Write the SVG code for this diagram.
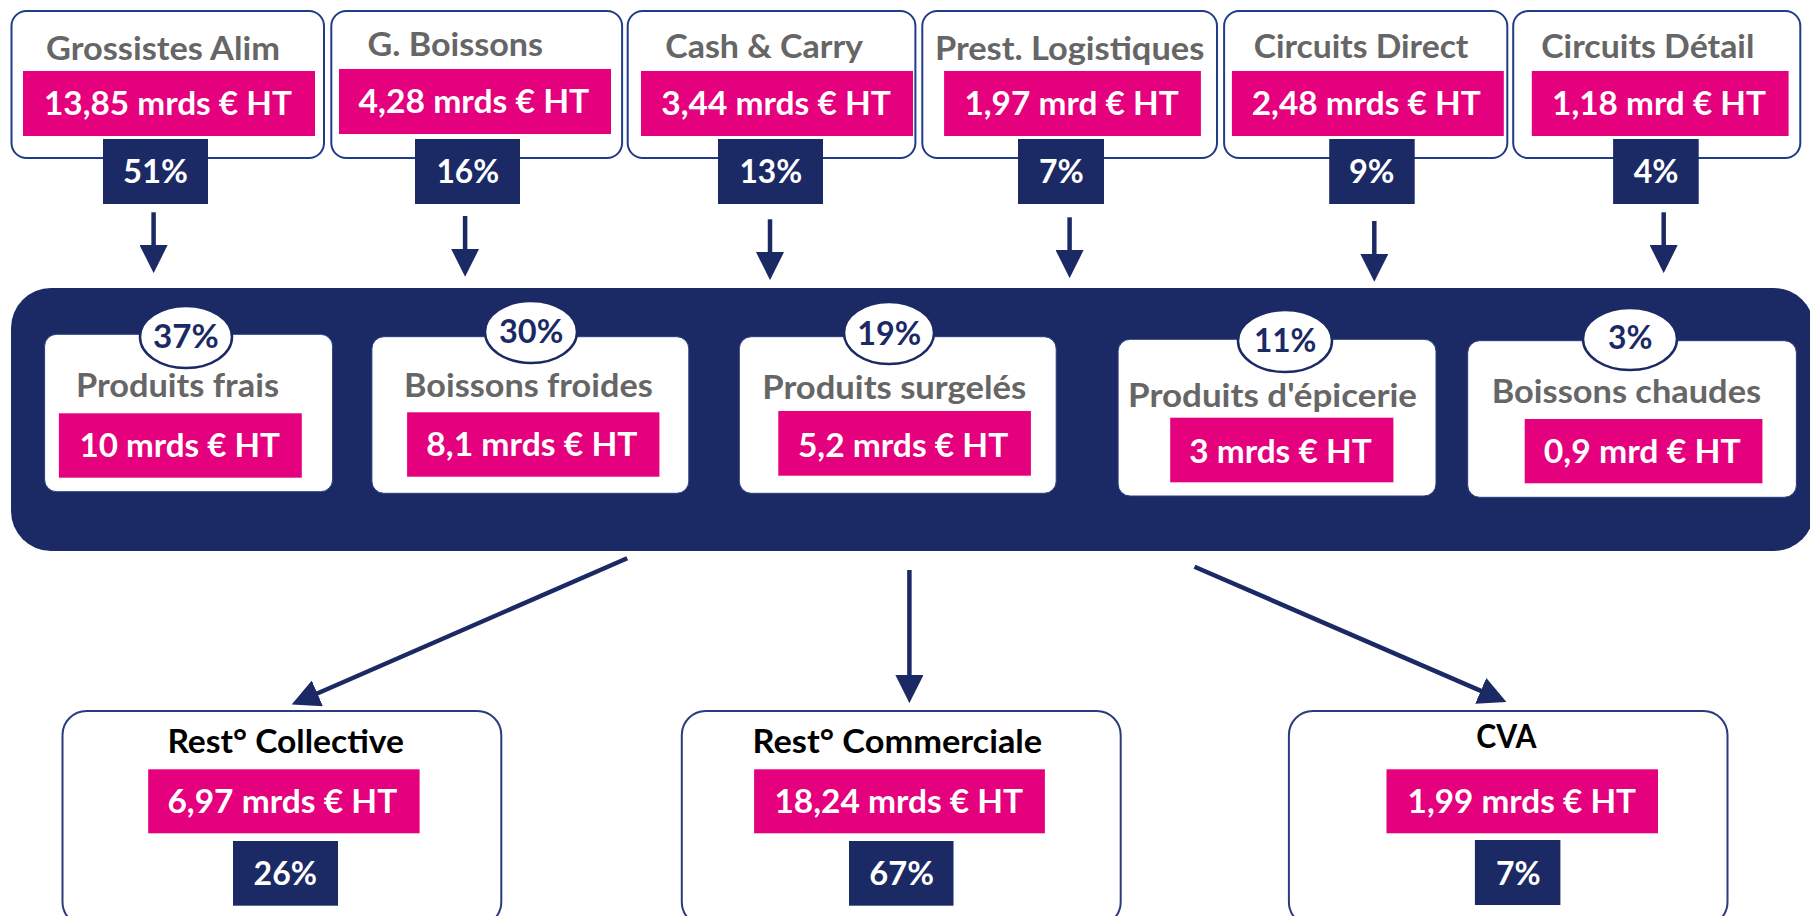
<svg xmlns="http://www.w3.org/2000/svg" width="1810" height="916" viewBox="0 0 1810 916">
<defs>
<style>
text{font-family:Lato,"Open Sans","Liberation Sans",sans-serif;font-weight:700;}
.src{fill:#fff;stroke:#203C87;stroke-width:2;}
.pk{fill:#E5007D;}
.nv{fill:#1B2A65;}
.wb{fill:#fff;stroke:#2A3C7E;stroke-width:1;}
.el{fill:#fff;stroke:#1B2A65;stroke-width:2.5;}
.bb{fill:#fff;stroke:#2A3C7E;stroke-width:2;}
.t{fill:#666666;font-size:33px;}
.tb{fill:#000;font-size:32px;}
.m{fill:#fff;font-size:32.5px;}
.p{fill:#fff;font-size:33px;}
.pe{fill:#1B2A65;font-size:33px;}
.ar{stroke:#1B2A65;stroke-width:4.5;fill:none;marker-end:url(#ah);}
</style>
<marker id="ah" markerUnits="userSpaceOnUse" markerWidth="28" markerHeight="28" viewBox="0 0 27 27" refX="5" refY="13.5" orient="auto">
<path d="M0,0 L27,13.5 L0,27 z" fill="#1B2A65"/>
</marker>
</defs>
<rect width="1810" height="916" fill="#fff"/>

<g id="grossistes-alim">
<rect class="src" x="11.5" y="11" width="312.5" height="147" rx="15"/>
<rect class="pk" x="23" y="71" width="292" height="65"/>
<rect class="nv" x="103" y="139" width="105" height="65"/>
<text class="t" x="46" y="60" textLength="234" lengthAdjust="spacingAndGlyphs">Grossistes Alim</text>
<text class="m" x="44" y="115" textLength="248" lengthAdjust="spacingAndGlyphs">13,85 mrds € HT</text>
<text class="p" x="123" y="182.7" textLength="65" lengthAdjust="spacingAndGlyphs">51%</text>
</g>

<g id="g-boissons">
<rect class="src" x="331.3" y="11" width="290.8" height="147" rx="15"/>
<rect class="pk" x="339" y="69" width="272" height="65"/>
<rect class="nv" x="415" y="139" width="105" height="65"/>
<text class="t" x="367.5" y="55.7" textLength="175.5" lengthAdjust="spacingAndGlyphs">G. Boissons</text>
<text class="m" x="358.6" y="113.3" textLength="230.7" lengthAdjust="spacingAndGlyphs">4,28 mrds € HT</text>
<text class="p" x="436.5" y="182.7" textLength="62.7" lengthAdjust="spacingAndGlyphs">16%</text>
</g>

<g id="cash-carry">
<rect class="src" x="627.7" y="11" width="287.7" height="147" rx="15"/>
<rect class="pk" x="641" y="71" width="272" height="65"/>
<rect class="nv" x="718" y="139" width="105" height="65"/>
<text class="t" x="665.2" y="58.3" textLength="197.8" lengthAdjust="spacingAndGlyphs">Cash &amp; Carry</text>
<text class="m" x="661.3" y="115" textLength="229.6" lengthAdjust="spacingAndGlyphs">3,44 mrds € HT</text>
<text class="p" x="739.4" y="182.7" textLength="62.7" lengthAdjust="spacingAndGlyphs">13%</text>
</g>

<g id="prest-logistiques">
<rect class="src" x="922.3" y="11" width="294.7" height="147" rx="15"/>
<rect class="pk" x="944.1" y="71" width="256.8" height="65"/>
<rect class="nv" x="1018" y="139" width="86" height="65"/>
<text class="t" x="934.9" y="60" textLength="269.4" lengthAdjust="spacingAndGlyphs">Prest. Logistiques</text>
<text class="m" x="964.4" y="115" textLength="214.3" lengthAdjust="spacingAndGlyphs">1,97 mrd € HT</text>
<text class="p" x="1039" y="182.7" textLength="44.8" lengthAdjust="spacingAndGlyphs">7%</text>
</g>

<g id="circuits-direct">
<rect class="src" x="1224.1" y="11" width="283.2" height="147" rx="15"/>
<rect class="pk" x="1231.9" y="71" width="271.9" height="65"/>
<rect class="nv" x="1329.2" y="139" width="85.5" height="65"/>
<text class="t" x="1253.7" y="58.3" textLength="214.7" lengthAdjust="spacingAndGlyphs">Circuits Direct</text>
<text class="m" x="1251.7" y="115" textLength="229.2" lengthAdjust="spacingAndGlyphs">2,48 mrds € HT</text>
<text class="p" x="1349" y="182.7" textLength="45.5" lengthAdjust="spacingAndGlyphs">9%</text>
</g>

<g id="circuits-detail">
<rect class="src" x="1513.2" y="11" width="287.1" height="147" rx="15"/>
<rect class="pk" x="1531.8" y="71" width="256.8" height="65"/>
<rect class="nv" x="1613.1" y="139" width="85.6" height="65"/>
<text class="t" x="1541.2" y="58.3" textLength="213.2" lengthAdjust="spacingAndGlyphs">Circuits Détail</text>
<text class="m" x="1552.1" y="115" textLength="213.9" lengthAdjust="spacingAndGlyphs">1,18 mrd € HT</text>
<text class="p" x="1633.8" y="182.7" textLength="44.7" lengthAdjust="spacingAndGlyphs">4%</text>
</g>

<g id="produits">
<rect class="nv" x="11" y="288" width="1803" height="263" rx="40"/>
</g>

<g id="produits-frais">
<rect class="wb" x="44.6" y="334.3" width="288" height="157.4" rx="12"/>
<ellipse class="el" cx="186" cy="337" rx="46" ry="31"/>
<text class="pe" x="153" y="348.3" textLength="65.8" lengthAdjust="spacingAndGlyphs">37%</text>
<text class="t" x="75.9" y="396.7" textLength="203.1" lengthAdjust="spacingAndGlyphs">Produits frais</text>
<rect class="pk" x="58.9" y="413.3" width="242.9" height="64.4"/>
<text class="m" x="79.5" y="456.7" textLength="200.4" lengthAdjust="spacingAndGlyphs">10 mrds € HT</text>
</g>

<g id="boissons-froides">
<rect class="wb" x="371.9" y="336.7" width="316.9" height="156.6" rx="12"/>
<ellipse class="el" cx="531" cy="332" rx="46" ry="31"/>
<text class="pe" x="499" y="342.7" textLength="64.4" lengthAdjust="spacingAndGlyphs">30%</text>
<text class="t" x="404" y="396.7" textLength="248.7" lengthAdjust="spacingAndGlyphs">Boissons froides</text>
<rect class="pk" x="407.1" y="412.3" width="252.3" height="64.4"/>
<text class="m" x="426.3" y="456" textLength="211.2" lengthAdjust="spacingAndGlyphs">8,1 mrds € HT</text>
</g>

<g id="produits-surgeles">
<rect class="wb" x="739.3" y="336.7" width="316.9" height="156.6" rx="12"/>
<ellipse class="el" cx="889" cy="333" rx="45" ry="31"/>
<text class="pe" x="857.2" y="345" textLength="63.9" lengthAdjust="spacingAndGlyphs">19%</text>
<text class="t" x="762.3" y="399.3" textLength="264" lengthAdjust="spacingAndGlyphs">Produits surgelés</text>
<rect class="pk" x="778.3" y="411" width="252.6" height="64.7"/>
<text class="m" x="797.9" y="456.7" textLength="210.4" lengthAdjust="spacingAndGlyphs">5,2 mrds € HT</text>
</g>

<g id="produits-epicerie">
<rect class="wb" x="1118.1" y="339.3" width="317.9" height="156.7" rx="12"/>
<ellipse class="el" cx="1285" cy="341" rx="47" ry="31"/>
<text class="pe" x="1254" y="351.7" textLength="62.4" lengthAdjust="spacingAndGlyphs">11%</text>
<text class="t" x="1128.1" y="406.7" textLength="288.9" lengthAdjust="spacingAndGlyphs">Produits d'épicerie</text>
<rect class="pk" x="1170.2" y="417.7" width="223.2" height="64.6"/>
<text class="m" x="1189.2" y="463.3" textLength="182.5" lengthAdjust="spacingAndGlyphs">3 mrds € HT</text>
</g>

<g id="boissons-chaudes">
<rect class="wb" x="1467.7" y="340.7" width="328.7" height="156.6" rx="12"/>
<ellipse class="el" cx="1630" cy="339" rx="47" ry="31"/>
<text class="pe" x="1608" y="349.3" textLength="44.4" lengthAdjust="spacingAndGlyphs">3%</text>
<text class="t" x="1491.7" y="403.3" textLength="269.4" lengthAdjust="spacingAndGlyphs">Boissons chaudes</text>
<rect class="pk" x="1524.7" y="419" width="237.7" height="64.3"/>
<text class="m" x="1543.7" y="463.3" textLength="197" lengthAdjust="spacingAndGlyphs">0,9 mrd € HT</text>
</g>

<g id="rest-collective">
<rect class="bb" x="62.5" y="711" width="438.8" height="215" rx="24"/>
<text class="tb" x="167.4" y="753.3" textLength="236.6" lengthAdjust="spacingAndGlyphs">Rest° Collective</text>
<rect class="pk" x="148.2" y="769.3" width="271.4" height="64"/>
<text class="m" x="167.4" y="813.3" textLength="229.9" lengthAdjust="spacingAndGlyphs">6,97 mrds € HT</text>
<rect class="nv" x="233" y="841" width="105" height="64.7"/>
<text class="p" x="253.6" y="885" textLength="63.4" lengthAdjust="spacingAndGlyphs">26%</text>
</g>

<g id="rest-commerciale">
<rect class="bb" x="681.8" y="711" width="438.9" height="215" rx="24"/>
<text class="tb" x="752.6" y="753.3" textLength="289.6" lengthAdjust="spacingAndGlyphs">Rest° Commerciale</text>
<rect class="pk" x="754.1" y="769.3" width="290.8" height="64"/>
<text class="m" x="774.4" y="813.3" textLength="248.7" lengthAdjust="spacingAndGlyphs">18,24 mrds € HT</text>
<rect class="nv" x="849" y="841" width="104.5" height="64.7"/>
<text class="p" x="869.3" y="885" textLength="64.7" lengthAdjust="spacingAndGlyphs">67%</text>
</g>

<g id="cva">
<rect class="bb" x="1288.9" y="711" width="438.6" height="215" rx="24"/>
<text class="tb" x="1476.2" y="748.3" textLength="60.2" lengthAdjust="spacingAndGlyphs">CVA</text>
<rect class="pk" x="1386.5" y="769.3" width="271.5" height="64"/>
<text class="m" x="1407.6" y="813.3" textLength="228.5" lengthAdjust="spacingAndGlyphs">1,99 mrds € HT</text>
<rect class="nv" x="1474.9" y="840" width="85.5" height="65"/>
<text class="p" x="1496" y="885" textLength="44.6" lengthAdjust="spacingAndGlyphs">7%</text>
</g>

<g id="connectors">
<line class="ar" x1="153.6" y1="212.3" x2="153.6" y2="250.3"/>
<line class="ar" x1="465.1" y1="216" x2="465.1" y2="254"/>
<line class="ar" x1="770" y1="219.3" x2="770" y2="257.3"/>
<line class="ar" x1="1069.6" y1="217.3" x2="1069.6" y2="255.3"/>
<line class="ar" x1="1374.3" y1="221" x2="1374.3" y2="259"/>
<line class="ar" x1="1663.7" y1="212.3" x2="1663.7" y2="250.3"/>
<line class="ar" x1="627.2" y1="558.3" x2="312.6" y2="695.5"/>
<line class="ar" x1="909.4" y1="570" x2="909.4" y2="680.3"/>
<line class="ar" x1="1194.5" y1="566.7" x2="1485.5" y2="692.9"/>
</g>
</svg>
